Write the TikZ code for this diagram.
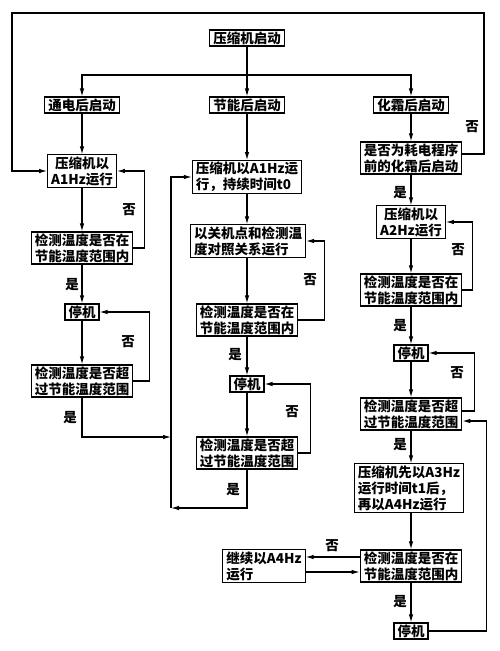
\documentclass[tikz,border=0pt]{standalone}
\usepackage{fontspec}
\setmainfont{Noto Sans CJK SC}
\usetikzlibrary{arrows.meta}

\begin{document}
\begin{tikzpicture}[x=1pt,y=-1pt]
\tikzstyle{every node}+=[font=\fontsize{13.5}{16}\selectfont\bfseries]
\tikzstyle{box}=[draw=black, line width=1.1pt, inner xsep=3.5pt, inner ysep=1.5pt, align=center]
\tikzstyle{lbox}=[box, align=left]
\tikzstyle{arr}=[draw=black, line width=1.1pt, -{Latex[length=8pt,width=4.5pt]}]
\tikzstyle{ln}=[draw=black, line width=1.1pt]
\useasboundingbox (0,0) rectangle (500,651);
% start and the three ways of starting
\node [box] (start) at (247,38) {压缩机启动};
\node [box] (t1) at (82,105) {通电后启动};
\node [box] (t2) at (247,105) {节能后启动};
\node [box] (t3) at (411,105) {化霜后启动};
\coordinate (split) at (247,75);
% left column
\node [box] (L1) at (82,171) {压缩机以\\A1Hz运行};
\node [box] (L2) at (82,248) {检测温度是否在\\节能温度范围内};
\node [box] (L3) at (82,312) {停机};
\node [box] (L4) at (82,381) {检测温度是否超\\过节能温度范围};
% middle column
\node [lbox] (M1) at (247,177) {压缩机以A1Hz运\\行，持续时间t0};
\node [lbox] (M2) at (248,241) {以关机点和检测温\\度对照关系运行};
\node [box] (M3) at (247,320) {检测温度是否在\\节能温度范围内};
\node [box] (M4) at (247,384) {停机};
\node [box] (M5) at (247,453) {检测温度是否超\\过节能温度范围};
\coordinate (ljoin) at (171,437);
\coordinate (mret) at (171,508);
% right column
\node [box] (R1) at (411,158) {是否为耗电程序\\前的化霜后启动};
\node [box] (R2) at (411,222) {压缩机以\\A2Hz运行};
\node [box] (R3) at (411,290) {检测温度是否在\\节能温度范围内};
\node [box] (R4) at (411,353) {停机};
\node [box] (R5) at (411,414) {检测温度是否超\\过节能温度范围};
\node [lbox] (R6) at (409,488) {压缩机先以A3Hz\\运行时间t1后，\\再以A4Hz运行};
\node [box] (R7) at (411,566) {检测温度是否在\\节能温度范围内};
\node [box] (R8) at (411,631) {停机};
\node [lbox] (C) at (264,566) {继续以A4Hz\\运行};
\coordinate (topR) at (484,13);
\coordinate (topL) at (12,13);
% yes / no labels
\node (n1) at (129,210) {否};
\node (y1) at (72,285) {是};
\node (n2) at (128,342) {否};
\node (y2) at (70,418) {是};
\node (n3) at (310,280) {否};
\node (y3) at (235,355) {是};
\node (n4) at (292,412) {否};
\node (y4) at (233,490) {是};
\node (n0) at (472,127) {否};
\node (y5) at (400,193) {是};
\node (n5) at (458,250) {否};
\node (y6) at (400,326) {是};
\node (n6) at (457,373) {否};
\node (y7) at (400,445) {是};
\node (n7) at (332,546) {否};
\node (y8) at (400,602) {是};
% connectors
\draw [arr] (start) -- (t2);
\draw [arr] (split) -| (t1);
\draw [arr] (split) -| (t3);
\draw [arr] (t1) -- (L1);
\draw [arr] (L1) -- (L2);
\draw [arr] (L2) -- (L3);
\draw [arr] (L3) -- (L4);
\draw [arr] (L2.east) -- ++(11,0) |- (L1.east);
\draw [arr] (L4.east) -- ++(16,0) |- (L3.east);
\draw [arr] (L4.south) |- (ljoin);
\draw [arr] (t2) -- (M1);
\draw [arr] (M1.south) -- (M1.south |- M2.north);
\draw [arr] (M2.south -| M3) -- (M3);
\draw [arr] (M3) -- (M4);
\draw [arr] (M4) -- (M5);
\draw [arr] (M3.east) -- ++(26,0) |- (M2.east);
\draw [arr] (M5.east) -- ++(12,0) |- (M4.east);
\draw [arr] (M5.south) |- (mret);
\draw [arr] (mret) |- (M1.west);
\draw [arr] (t3) -- (R1);
\draw [arr] (R1) -- (R2);
\draw [arr] (R2) -- (R3);
\draw [arr] (R3) -- (R4);
\draw [arr] (R4) -- (R5);
\draw [arr] (R5.south) -- (R5.south |- R6.north);
\draw [arr] (R6.south -| R7) -- (R7);
\draw [arr] (R7) -- (R8);
\draw [arr] (R3.east) -- ++(10,0) |- (R2.east);
\draw [arr] ([yshift=3pt]R5.east) -- ++(12,0) |- (R4.east);
\draw [arr] (R8.east) -- ++(58,0) |- ([yshift=-7pt]R5.east);
\draw [arr] ([yshift=9pt]R7.west) -- ([yshift=9pt]C.east);
\draw [arr] ([yshift=-6pt]C.east) -- ([yshift=-6pt]R7.west);
\draw [ln] (t1 |- split) -- (split);
\draw [arr] ([yshift=4pt]R1.east) -| (topR) -- (topL) |- (L1.west);
\end{tikzpicture}
\end{document}
